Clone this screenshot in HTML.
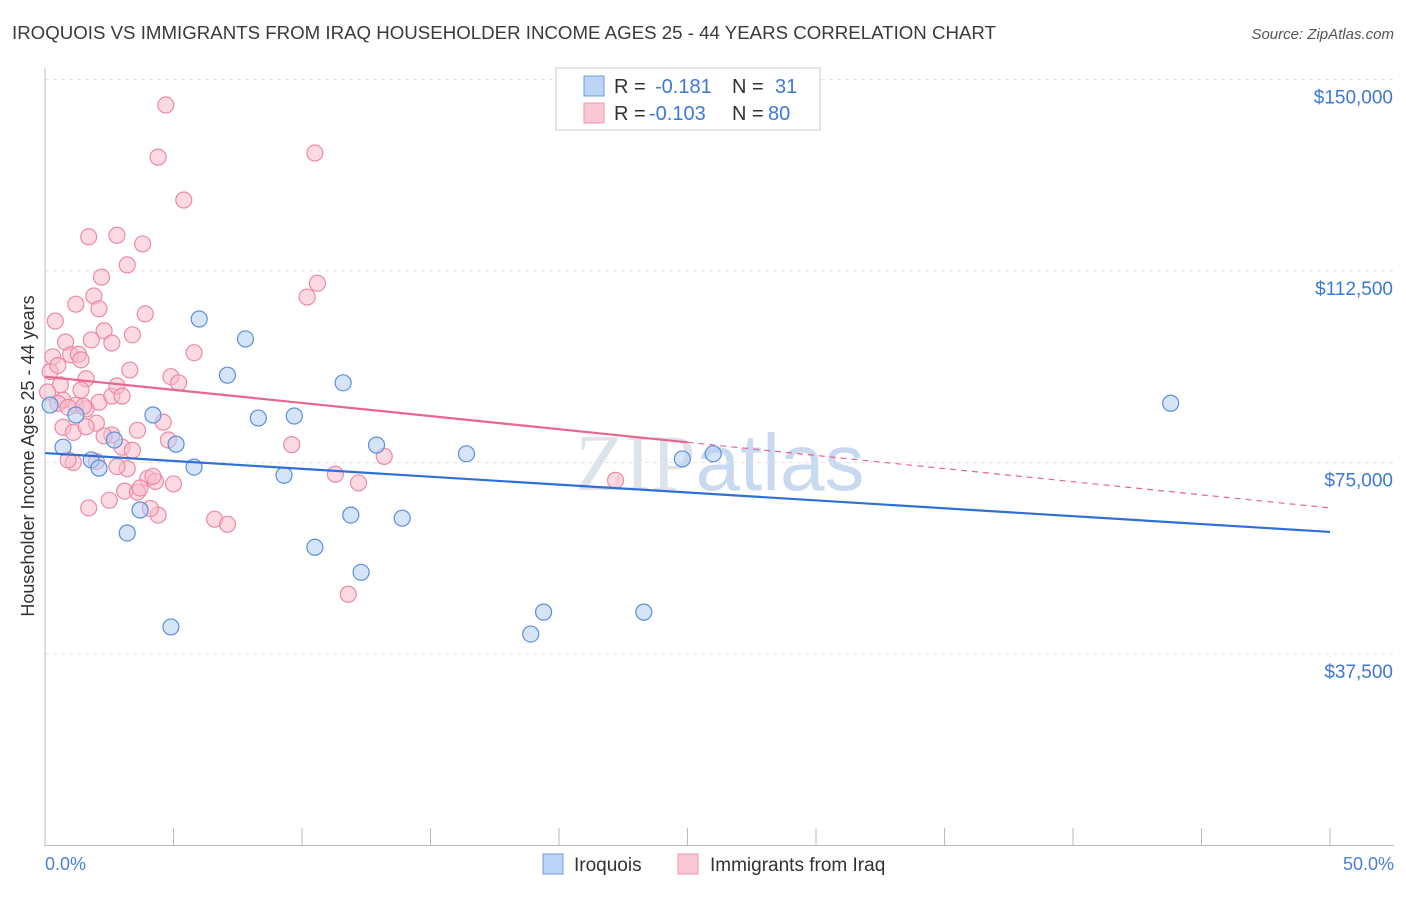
<!DOCTYPE html>
<html><head><meta charset="utf-8"><style>
body{margin:0;background:#fff;font-family:"Liberation Sans",sans-serif;}
</style></head><body>
<svg id="chart" width="1406" height="892" xmlns="http://www.w3.org/2000/svg" font-family="Liberation Sans, sans-serif">
<text x="12" y="39" font-size="18" fill="#3a3a3a" textLength="984" lengthAdjust="spacingAndGlyphs">IROQUOIS VS IMMIGRANTS FROM IRAQ HOUSEHOLDER INCOME AGES 25 - 44 YEARS CORRELATION CHART</text>
<text x="1394" y="39" font-size="15" fill="#555" text-anchor="end" font-style="italic">Source: ZipAtlas.com</text>
<text x="720" y="490" font-size="80" fill="#dde3ea" text-anchor="middle" font-family="Liberation Serif, serif">ZIP<tspan fill="#c9daf0" font-family="Liberation Sans, sans-serif">atlas</tspan></text>
<g id="grid"></g><g id="axes"></g><g id="marks"></g><g id="trends"></g>
<text transform="translate(34,456) rotate(-90)" font-size="18" fill="#333" text-anchor="middle">Householder Income Ages 25 - 44 years</text>
<text x="45" y="870" font-size="18" fill="#4a7fd4">0.0%</text>
<text x="1394" y="870" font-size="18" fill="#4a7fd4" text-anchor="end">50.0%</text>
<g font-size="20">
<rect x="556" y="68" width="264" height="62" fill="#fff" stroke="#ccc"/>
<rect x="584" y="76" width="20" height="20" fill="#bcd4f5" stroke="#6c9be0"/>
<rect x="584" y="103" width="20" height="20" fill="#fbc9d6" stroke="#ef95ae"/>
<text x="614" y="93" fill="#333">R =</text><text x="655" y="93" fill="#3b78d8">-0.181</text>
<text x="732" y="93" fill="#333">N =</text><text x="775" y="93" fill="#3b78d8">31</text>
<text x="614" y="120" fill="#333">R =</text><text x="649" y="120" fill="#3b78d8">-0.103</text>
<text x="732" y="120" fill="#333">N =</text><text x="768" y="120" fill="#3b78d8">80</text>
</g>
<g>
<rect x="543" y="854" width="20" height="20" fill="#bcd4f5" stroke="#6c9be0"/>
<text x="574" y="871" font-size="19" fill="#333">Iroquois</text>
<rect x="678" y="854" width="20" height="20" fill="#fbc9d6" stroke="#ef95ae"/>
<text x="710" y="871" font-size="19" fill="#333">Immigrants from Iraq</text>
</g>
</svg>
<script>
const yTicks=[37500,75000,112500,150000];
const yTickLabels=["$37,500","$75,000","$112,500","$150,000"];
const xTicks=[0,5,10,15,20,25,30,35,40,45,50];
const blueX=[0.2,0.7,1.2,1.8,2.1,2.7,3.2,3.7,4.2,4.9,5.1,5.8,6.0,7.1,7.8,8.3,9.3,9.7,10.5,11.6,11.9,12.3,12.9,13.9,16.4,18.9,19.4,23.3,24.8,26.0,43.8];
const blueY=[86250,78000,84300,75500,73900,79400,61200,65700,84300,42800,78600,74100,103100,92100,99200,83700,72500,84100,58400,90600,64700,53500,78400,64100,76700,41400,45700,45700,75700,76700,86600];
const pinkX=[4.7,4.4,10.5,5.4,1.7,2.8,3.8,3.2,2.2,10.2,10.6,1.9,1.2,2.1,3.9,0.4,2.3,3.4,1.8,0.8,2.6,5.8,1.0,1.3,0.3,1.4,3.3,4.9,0.2,1.6,0.6,5.2,0.1,1.4,2.1,0.7,0.5,1.2,0.9,2.0,4.6,0.7,1.1,2.6,2.3,3.6,3.0,4.8,3.4,13.2,1.1,2.0,3.2,2.8,11.3,22.2,4.0,4.3,3.1,4.2,3.6,2.5,1.7,4.4,6.6,7.1,11.8,1.6,2.6,9.6,12.2,2.8,3.7,4.1,1.6,5.0,0.5,0.9,1.5,3.0];
const pinkY=[145000,134800,135600,126400,119200,119500,117800,113700,111300,107400,110100,107600,106000,105100,104100,102700,100800,100000,99000,98600,98400,96500,96100,96200,95700,95100,93100,91800,92800,91400,90200,90600,88800,89200,86800,87200,86600,86200,85800,82700,82900,81900,80900,80400,80200,81300,78000,79400,77400,76200,75000,75200,73800,74200,72700,71500,71900,71300,69400,72300,69200,67600,66100,64700,63900,62900,49200,82000,88000,78500,71000,90000,70000,66000,85500,70800,94000,75500,86000,88000];
// trend line endpoints (value at 0% and 50%)
const blueTrend=[76850,61400];
const pinkTrend=[91800,66100];
const X=p=>45+p*25.7, Y=v=>845.5-v/37500*191.5;
const NS="http://www.w3.org/2000/svg";
function mk(t,a,parent){const e=document.createElementNS(NS,t);for(const k in a)e.setAttribute(k,a[k]);parent.appendChild(e);return e;}
const grid=document.getElementById('grid'),axes=document.getElementById('axes'),marks=document.getElementById('marks'),trends=document.getElementById('trends');
mk('line',{x1:45,y1:Y(150000),x2:1394,y2:Y(150000),stroke:'#e3e3e3','stroke-dasharray':'4,4'},grid);
yTicks.forEach((v,i)=>{
 const l=mk('line',{x1:45,y1:Y(v),x2:1394,y2:Y(v),stroke:'#e3e3e3','stroke-dasharray':'4,4'},grid);
 
 
 const t=mk('text',{x:1393,y:Y(v)+24,'font-size':19,fill:'#3b78d8','text-anchor':'end'},axes);
 t.textContent=yTickLabels[i];
 
 
});
mk('line',{x1:45,y1:68,x2:45,y2:846,stroke:'#bbb'},axes);
mk('line',{x1:45,y1:845.5,x2:1394,y2:845.5,stroke:'#bbb'},axes);
xTicks.forEach(p=>{const l=mk('line',{x1:X(p),y1:828,x2:X(p),y2:846,stroke:'#bbb'},axes);
 
 });
function pts(xs,ys,fill,stroke,name){xs.forEach((x,i)=>{const c=mk('circle',{cx:X(x),cy:Y(ys[i]),r:8,fill:fill,'fill-opacity':0.55,stroke:stroke,'stroke-width':1.2},marks);
 
 });}
pts(pinkX,pinkY,'#f8bccb','#ec8aa6','iraq-point');
pts(blueX,blueY,'#b4cef3','#5b8fdc','iroquois-point');
const fb=x=>blueTrend[0]+(blueTrend[1]-blueTrend[0])*x/50;
const fp=x=>pinkTrend[0]+(pinkTrend[1]-pinkTrend[0])*x/50;
let l=mk('line',{x1:X(0),y1:Y(fb(0)),x2:X(50),y2:Y(fb(50)),stroke:'#2f6fd6','stroke-width':2.2},trends);


l=mk('line',{x1:X(0),y1:Y(fp(0)),x2:X(25),y2:Y(fp(25)),stroke:'#e8668f','stroke-width':2.2},trends);


l=mk('line',{x1:X(25),y1:Y(fp(25)),x2:X(50),y2:Y(fp(50)),stroke:'#e8668f','stroke-width':1.2,'stroke-dasharray':'6,5'},trends);


</script>
</body></html>
